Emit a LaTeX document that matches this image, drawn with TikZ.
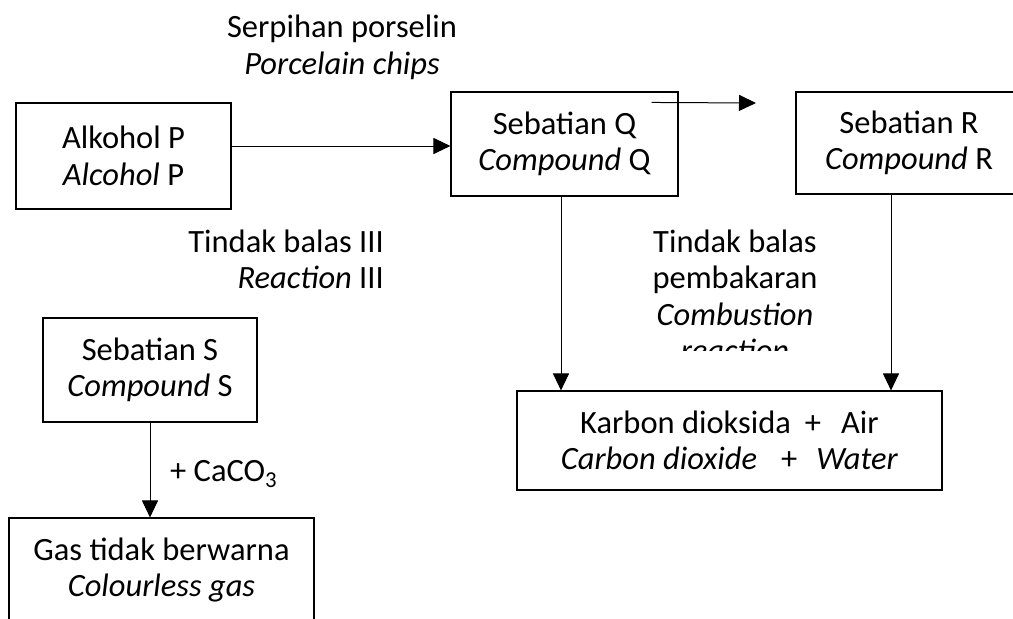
\documentclass[tikz,border=0pt]{standalone}
\usepackage{fontspec}
\setmainfont{Carlito}
\usetikzlibrary{arrows.meta,positioning}

\tikzset{
  box/.style={draw, line width=1.1pt, align=center, inner sep=0pt},
  lbl/.style={align=center, inner sep=0pt},
  arr/.style={line width=1pt, -{Triangle[length=17pt,width=16pt]}}
}

\begin{document}
\begin{tikzpicture}[x=1pt,y=-1pt,font=\fontsize{32.5}{36.5}\selectfont]
\useasboundingbox (0,0) rectangle (1013,619);
\clip (0,0) rectangle (1013,619);
% boxes
\node [box, minimum width=215pt, minimum height=106pt] (alkP) at (123.5,156) {Alkohol P\\\textit{Alcohol} P};
\node [box, minimum width=227pt, minimum height=104pt] (cmpQ) at (564.5,144) {Sebatian Q\\\textit{Compound} Q};
\node [box, minimum width=226pt, minimum height=102pt] (cmpR) at (909,143) {Sebatian R\\\textit{Compound} R};
\node [box, minimum width=214pt, minimum height=104pt] (cmpS) at (150,370) {Sebatian S\\\textit{Compound} S};
\node [box, minimum width=305pt, minimum height=104pt] (gas) at (161.5,570) {Gas tidak berwarna\\\textit{Colourless gas}};
\node [box, minimum width=425pt, minimum height=99pt] (co2) at (729.5,440.5) {Karbon dioksida\hspace{14pt}+\hspace{20pt}Air\\\textit{Carbon dioxide}\hspace{24pt}+\hspace{19pt}\textit{Water}};
% labels
\node [lbl, anchor=base] (chips) at (342,74) {Serpihan porselin\\\textit{Porcelain chips}};
\node [lbl, anchor=base east, align=right] (reac3) at (384,288.5) {Tindak balas III\\\textit{Reaction} III};
\node [lbl, anchor=base west] (caco) at (170,481) {+ CaCO\textsubscript{3}};
\begin{scope}
\clip (600,220) rectangle (880,350);
\node [lbl, anchor=base] (burn) at (735,361.5) {Tindak balas\\pembakaran\\\textit{Combustion}\\\textit{reaction}};
\end{scope}
% arrows
\coordinate (qr) at (756,103);
\draw [arr] ([yshift=10pt]alkP.east) -- ([yshift=-2pt]cmpQ.west);
\draw [arr] ([xshift=-27pt,yshift=-11pt]cmpQ.north east) -- (qr);
\draw [arr] ([xshift=-3.5pt]cmpQ.south) -- ([xshift=-3.5pt]cmpQ.south |- co2.north);
\draw [arr] ([xshift=-18pt]cmpR.south) -- ([xshift=-18pt]cmpR.south |- co2.north);
\draw [arr] (cmpS.south) -- (cmpS.south |- gas.north);
\end{tikzpicture}
\end{document}
